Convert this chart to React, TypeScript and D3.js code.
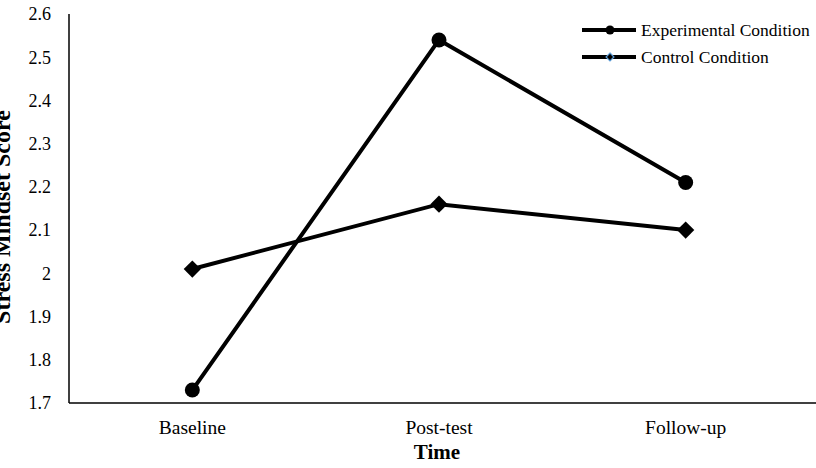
import * as d3 from "d3";

const timePoints = ["Baseline", "Post-test", "Follow-up"];
const experimental = [1.73, 2.54, 2.21];
const control = [2.01, 2.16, 2.1];
const yTicks = [1.7, 1.8, 1.9, 2, 2.1, 2.2, 2.3, 2.4, 2.5, 2.6];

const W = 816;
const H = 468;
const FONT = "'Liberation Serif', 'Times New Roman', serif";

const App = () => {
  // plot area
  const left = 69;
  const right = 809;
  const top = 14;
  const bottom = 403;

  const x = d3.scaleBand<string>().domain(timePoints).range([left, right]);
  const y = d3.scaleLinear().domain([1.7, 2.6]).range([bottom, top]);
  const cx = (i: number) => (x(timePoints[i]) as number) + x.bandwidth() / 2;

  const line = d3
    .line<number>()
    .x((d, i) => cx(i))
    .y((d) => y(d));

  const diamond = d3.symbol().type(d3.symbolDiamond2);

  return (
    <svg
      width={W}
      height={H}
      style={{ position: "absolute", left: 0, top: 0, background: "#fff" }}
      fontFamily={FONT}
    >
      {/* axes */}
      <line x1={left} x2={left} y1={top} y2={bottom} stroke="#000" strokeWidth={1.5} />
      <line x1={left} x2={W} y1={bottom} y2={bottom} stroke="#000" strokeWidth={1.5} />

      {yTicks.map((t) => (
        <text key={t} x={51} y={y(t)} dy="0.35em" textAnchor="end" fontSize={18}>
          {t}
        </text>
      ))}

      {timePoints.map((c, i) => (
        <text key={c} x={cx(i)} y={427} dy="0.35em" textAnchor="middle" fontSize={19.5}>
          {c}
        </text>
      ))}

      <text x={437} y={452} dy="0.35em" textAnchor="middle" fontSize={21} fontWeight="bold">
        Time
      </text>
      <text
        transform="translate(10,217) rotate(-90)"
        textAnchor="middle"
        fontSize={24}
        fontWeight="bold"
      >
        Stress Mindset Score
      </text>

      {/* series */}
      <path d={line(control) || ""} fill="none" stroke="#000" strokeWidth={4} />
      <path d={line(experimental) || ""} fill="none" stroke="#000" strokeWidth={4} />

      {control.map((v, i) => (
        <path
          key={"c" + i}
          d={diamond.size(190)() || ""}
          transform={`translate(${cx(i)},${y(v)})`}
          fill="#000"
        />
      ))}
      {experimental.map((v, i) => (
        <circle key={"e" + i} cx={cx(i)} cy={y(v)} r={7.5} fill="#000" />
      ))}

      {/* legend */}
      <g>
        <line x1={582} x2={636} y1={30} y2={30} stroke="#000" strokeWidth={4} />
        <circle cx={610} cy={30} r={4.5} fill="#000" />
        <text x={641} y={30} dy="0.35em" fontSize={17.5}>
          Experimental Condition
        </text>
        <line x1={582} x2={636} y1={57} y2={57} stroke="#000" strokeWidth={4} />
        <path
          d={diamond.size(40)() || ""}
          transform="translate(610,57)"
          fill="#000"
          stroke="#5b9bd5"
          strokeWidth={1.2}
        />
        <text x={641} y={57} dy="0.35em" fontSize={17.5}>
          Control Condition
        </text>
      </g>
    </svg>
  );
};

export default App;
